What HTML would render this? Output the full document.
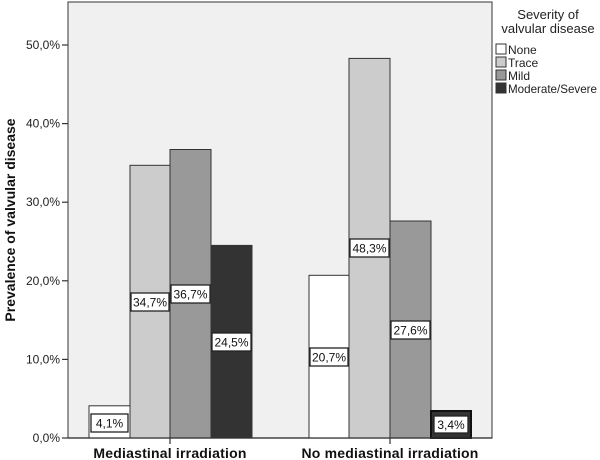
<!DOCTYPE html>
<html><head><meta charset="utf-8"><style>body{margin:0;background:#fff}svg{display:block}text{font-family:"Liberation Sans",sans-serif}</style></head><body>
<svg width="600" height="460" viewBox="0 0 600 460">
<rect x="68" y="2" width="424" height="436" fill="#f0f0f0" stroke="#555" stroke-width="1.2"/>
<g stroke="#333" stroke-width="1">
<rect x="89" y="405.8" width="41" height="32.2" fill="#fff"/>
<rect x="130" y="165.3" width="40" height="272.7" fill="#cccccc"/>
<rect x="170" y="149.5" width="41" height="288.5" fill="#999999"/>
<rect x="211" y="245.4" width="41" height="192.6" fill="#333333"/>
<rect x="309" y="275.3" width="40" height="162.7" fill="#fff"/>
<rect x="349" y="58.4" width="41" height="379.6" fill="#cccccc"/>
<rect x="390" y="221" width="41" height="217" fill="#999999"/>
<rect x="431" y="411" width="40" height="27" fill="#333333" stroke="#111" stroke-width="2"/>
</g>
<g stroke="#333" stroke-width="1.2">
<line x1="62" y1="438" x2="68" y2="438"/><line x1="62" y1="359.4" x2="68" y2="359.4"/><line x1="62" y1="280.8" x2="68" y2="280.8"/><line x1="62" y1="202.2" x2="68" y2="202.2"/><line x1="62" y1="123.6" x2="68" y2="123.6"/><line x1="62" y1="45" x2="68" y2="45"/>
<line x1="170" y1="438" x2="170" y2="444"/><line x1="390" y1="438" x2="390" y2="444"/>
<line x1="68" y1="438" x2="492" y2="438"/>
</g>
<g font-size="12" fill="#222" text-anchor="end">
<text x="60" y="442">0,0%</text><text x="60" y="363.4">10,0%</text><text x="60" y="284.8">20,0%</text><text x="60" y="206.2">30,0%</text><text x="60" y="127.6">40,0%</text><text x="60" y="49">50,0%</text>
</g>
<text transform="translate(15,220) rotate(-90)" text-anchor="middle" font-size="14" font-weight="bold" fill="#111">Prevalence of valvular disease</text>
<g font-size="14" font-weight="bold" fill="#111" text-anchor="middle" letter-spacing="0.2">
<text x="170" y="458">Mediastinal irradiation</text><text x="390" y="458">No mediastinal irradiation</text>
</g>
<g font-size="12" fill="#111" text-anchor="middle">
<g fill="#fff" stroke="#222" stroke-width="1.3">
<rect x="91" y="414" width="37" height="18"/>
<rect x="131" y="293" width="38" height="18"/>
<rect x="171" y="285" width="39" height="18"/>
<rect x="212" y="333" width="39" height="18"/>
<rect x="310" y="348" width="38" height="18"/>
<rect x="350" y="239" width="39" height="18"/>
<rect x="391" y="321" width="39" height="18"/>
<rect x="434" y="416" width="34" height="17"/>
</g>
<text x="109.5" y="427.5">4,1%</text>
<text x="150" y="306.5">34,7%</text>
<text x="190.5" y="298.5">36,7%</text>
<text x="231.5" y="346.5">24,5%</text>
<text x="329" y="361.5">20,7%</text>
<text x="369.5" y="252.5">48,3%</text>
<text x="410.5" y="334.5">27,6%</text>
<text x="451" y="429">3,4%</text>
</g>
<g font-size="13" fill="#222">
<text x="548" y="19" text-anchor="middle">Severity of</text>
<text x="548" y="33" text-anchor="middle">valvular disease</text>
<g stroke="#333" stroke-width="1">
<rect x="496" y="44" width="10" height="10" fill="#fff"/>
<rect x="496" y="57" width="10" height="10" fill="#ccc"/>
<rect x="496" y="70" width="10" height="10" fill="#999"/>
<rect x="496" y="83" width="10" height="10" fill="#333"/>
</g>
<g font-size="12"><text x="508" y="54">None</text><text x="508" y="67">Trace</text><text x="508" y="80">Mild</text><text x="508" y="93" textLength="89" lengthAdjust="spacingAndGlyphs">Moderate/Severe</text></g>
</g>
</svg>
</body></html>
